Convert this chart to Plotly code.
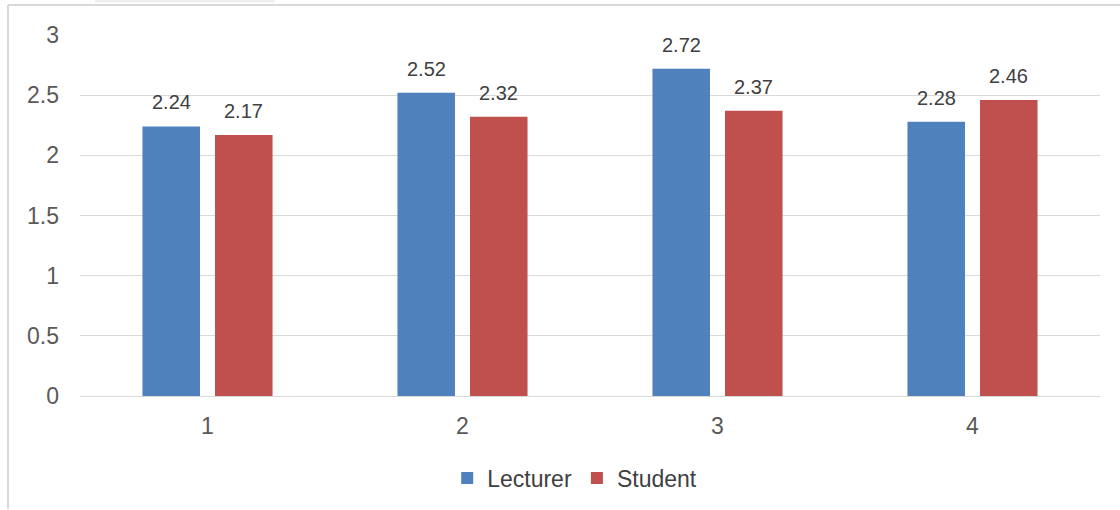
import plotly.graph_objects as go

categories = ["1", "2", "3", "4"]
lecturer = [2.24, 2.52, 2.72, 2.28]
student = [2.17, 2.32, 2.37, 2.46]
y_ticks = [0, 0.5, 1, 1.5, 2, 2.5, 3]
y_tick_text = ["0", "0.5", "1", "1.5", "2", "2.5", "3"]

W, H = 1120, 510
ML, MR, MT, MB = 80, 20, 35, 113
PW, PH = W - ML - MR, H - MT - MB

BLUE = "#4f81bd"
RED = "#c0504d"
FONT = "Liberation Sans, Arial, sans-serif"


def px_x(px):
    return (px - ML) / PW


def px_y(py):
    return 1 - (py - MT) / PH


fig = go.Figure()
fig.add_bar(name="Lecturer", x=categories, y=lecturer, marker_color=BLUE,
            marker_line_width=0, offsetgroup="a")
fig.add_bar(name="Student", x=categories, y=student, marker_color=RED,
            marker_line_width=0, offsetgroup="b")

# value labels above each bar
annotations = []
for series, offset in ((lecturer, -0.142), (student, 0.142)):
    for i, v in enumerate(series):
        annotations.append(dict(
            x=i + offset, y=v, xref="x", yref="y", text=f"{v:.2f}",
            showarrow=False, yanchor="bottom", yshift=11,
            font=dict(family=FONT, size=20, color="#404040")))

# outer chart frame (left and top edges)
shapes = [
    dict(type="line", xref="paper", yref="paper", x0=px_x(8), x1=px_x(8),
         y0=px_y(5), y1=px_y(510), line=dict(color="#d9d9d9", width=2)),
    dict(type="line", xref="paper", yref="paper", x0=px_x(8), x1=px_x(1120),
         y0=px_y(5), y1=px_y(5), line=dict(color="#d9d9d9", width=2)),
    dict(type="line", xref="paper", yref="paper", x0=px_x(95), x1=px_x(275),
         y0=px_y(1), y1=px_y(1), line=dict(color="#eeeeee", width=3)),
]

fig.update_layout(
    width=W, height=H,
    margin=dict(l=ML, r=MR, t=MT, b=MB),
    paper_bgcolor="white", plot_bgcolor="white",
    barmode="group", bargap=0.431, bargroupgap=0.207,
    font=dict(family=FONT, color="#595959"),
    annotations=annotations, shapes=shapes,
    legend=dict(orientation="h", x=0.485, xanchor="center", y=px_y(478),
                yanchor="middle", font=dict(size=23, color="#404040"),
                itemwidth=30, traceorder="normal"),
    xaxis=dict(showgrid=False, showline=False, ticks="", zeroline=False,
               tickfont=dict(size=23, color="#595959"), ticklabelstandoff=14),
    yaxis=dict(range=[0, 3], tickvals=y_ticks, ticktext=y_tick_text,
               showgrid=True, gridcolor="#d9d9d9", gridwidth=1,
               zeroline=True, zerolinecolor="#d9d9d9", zerolinewidth=1,
               showline=False, ticks="", ticklabelstandoff=20,
               tickfont=dict(size=23, color="#595959")),
)
fig.update_xaxes(range=[-0.5, 3.5])

fig.write_html("out.html")
